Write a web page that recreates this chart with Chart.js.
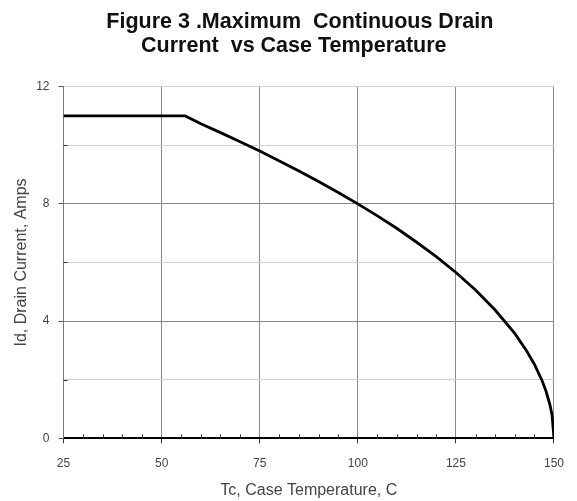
<!DOCTYPE html>
<html>
<head>
<meta charset="utf-8">
<script src="https://cdn.jsdelivr.net/npm/chart.js@4/dist/chart.umd.min.js"></script>
<style>
html,body{margin:0;padding:0;background:#fff;}
#wrap{width:577px;height:501px;}
</style>
</head>
<body>
<div id="wrap"><canvas id="c" width="577" height="501"></canvas></div>
<script>
// Case temperature (C) and max continuous drain current (A)
const caseTemp = [25, 56, 60, 65, 70, 75, 80, 85, 90, 95, 100, 105, 110, 115, 120, 125, 130, 135, 140, 143, 145, 147, 148, 149, 149.5, 150];
const drainCurrent = [11.0, 11.0, 10.73, 10.43, 10.12, 9.80, 9.46, 9.12, 8.76, 8.39, 8.0, 7.59, 7.16, 6.69, 6.20, 5.66, 5.06, 4.38, 3.58, 2.99, 2.53, 1.96, 1.60, 1.13, 0.80, 0.0];
const xTicks = [25, 50, 75, 100, 125, 150];
const yTickLabels = [0, 4, 8, 12];
const titleLines = ['Figure 3 .Maximum  Continuous Drain   ', 'Current  vs Case Temperature     '];

const FONT = "'Liberation Sans', Arial, sans-serif";

const minorTicks = {
  id: 'minorTicks',
  afterDraw(chart) {
    const ctx = chart.ctx, x = chart.scales.x, y = chart.scales.y;
    ctx.save();
    ctx.strokeStyle = '#333';
    ctx.lineWidth = 1;
    for (let v = 25; v <= 150; v += 5) {
      if (v % 25 === 0) continue;
      const px = Math.round(x.getPixelForValue(v)) + 0.5;
      ctx.beginPath();
      ctx.moveTo(px, y.bottom);
      ctx.lineTo(px, y.bottom - 4);
      ctx.stroke();
    }
    for (let v = 2; v < 12; v += 4) {
      const py = Math.round(y.getPixelForValue(v)) + 0.5;
      ctx.beginPath();
      ctx.moveTo(x.left, py);
      ctx.lineTo(x.left + 4, py);
      ctx.stroke();
    }
    ctx.restore();
  }
};

new Chart(document.getElementById('c'), {
  type: 'line',
  data: {
    datasets: [{
      data: caseTemp.map((t, i) => ({x: t, y: drainCurrent[i]})),
      borderColor: '#000',
      borderWidth: 2.8,
      pointRadius: 0,
      tension: 0,
      fill: false
    }]
  },
  options: {
    responsive: false,
    animation: false,
    devicePixelRatio: 1,
    layout: {padding: {left: 4, right: 19, top: 0, bottom: 1}},
    plugins: {
      legend: {display: false},
      tooltip: {enabled: false},
      title: {
        display: true,
        fullSize: false,
        text: titleLines,
        color: '#111',
        font: {family: FONT, size: 21.5, weight: 'bold', lineHeight: 1.13},
        padding: {top: 10, bottom: 28}
      }
    },
    scales: {
      x: {
        type: 'linear',
        min: 25, max: 150,
        afterBuildTicks: s => { s.ticks = xTicks.map(v => ({value: v})); },
        ticks: {color: '#444', font: {family: FONT, size: 12}, padding: 13, maxRotation: 0},
        grid: {color: '#888', lineWidth: 1, tickLength: 5, tickColor: '#333'},
        border: {color: '#000', width: 2},
        title: {display: true, text: 'Tc, Case Temperature, C', color: '#444', font: {family: FONT, size: 16}, padding: {top: -3, bottom: 0}}
      },
      y: {
        type: 'linear',
        min: 0, max: 12,
        ticks: {
          stepSize: 2,
          color: '#444',
          font: {family: FONT, size: 12},
          padding: 9,
          callback: v => yTickLabels.includes(v) ? String(v) : ''
        },
        grid: {
          color: c => (c.tick && c.tick.value % 4 === 0 && c.tick.value !== 12) ? '#888' : '#d0d0d0',
          tickColor: c => (c.tick && yTickLabels.includes(c.tick.value)) ? '#555' : 'rgba(0,0,0,0)',
          tickLength: 5,
          lineWidth: 1
        },
        border: {color: '#777', width: 1},
        title: {display: true, text: 'Id, Drain Current, Amps', color: '#444', font: {family: FONT, size: 16}, padding: {top: 8, bottom: -4}}
      }
    }
  },
  plugins: [minorTicks]
});
</script>
</body>
</html>
